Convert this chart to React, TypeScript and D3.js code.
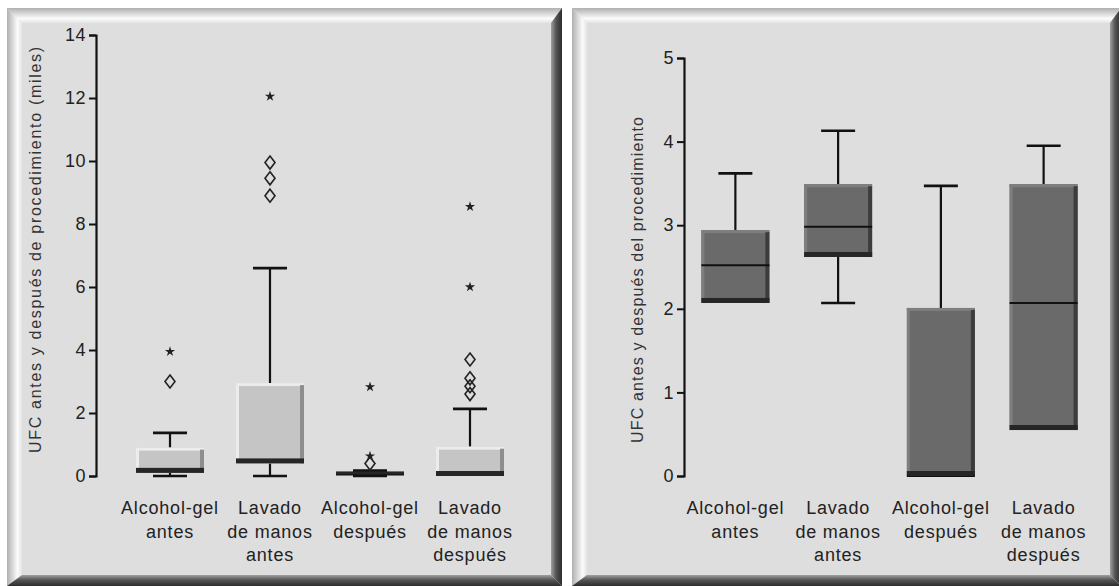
import React, { useEffect, useRef } from 'react';
import * as d3 from 'd3';

// categories shared by both panels
const categories = ['Alcohol-gel antes', 'Lavado de manos antes', 'Alcohol-gel después', 'Lavado de manos después'];
const categoryLines = [
    ['Alcohol-gel', 'antes'],
    ['Lavado', 'de manos', 'antes'],
    ['Alcohol-gel', 'después'],
    ['Lavado', 'de manos', 'después']
];

// left panel: UFC (miles)
const leftTicks = [0, 2, 4, 6, 8, 10, 12, 14];
const leftWhiskerLow = [0, 0, 0, 0];
const leftQ1 = [0.1, 0.4, 0.05, 0];
const leftMedian = [0.15, 0.45, 0.05, 0.05];
const leftQ3 = [0.9, 2.95, 0.1, 0.93];
const leftWhiskerHigh = [1.37, 6.6, 0.17, 2.13];
const leftOutliers = [[3.0], [8.9, 9.45, 9.95], [0.4], [2.6, 2.85, 3.1, 3.7]];
const leftExtremes = [[3.95], [12.05], [0.63, 2.83], [6.0, 8.55]];

// right panel
const rightTicks = [0, 1, 2, 3, 4, 5];
const rightWhiskerLow = [2.07, 2.07, 0, 0.55];
const rightQ1 = [2.07, 2.62, 0, 0.55];
const rightMedian = [2.52, 2.98, 0, 2.07];
const rightQ3 = [2.94, 3.49, 2.01, 3.49];
const rightWhiskerHigh = [3.62, 4.13, 3.47, 3.95];

const W = 1119;
const H = 586;
const FONT = '"Liberation Sans", Arial, sans-serif';

interface PanelSpec {
    frame: [number, number, number, number];
    axisX: number;
    bandRange: [number, number];
    yDomain: [number, number];
    yRange: [number, number];
    ticks: number[];
    title: string;
    titleX: number;
    titleY: number;
    titleLen: number;
    low: number[];
    q1: number[];
    med: number[];
    q3: number[];
    high: number[];
    outliers?: number[][];
    extremes?: number[][];
    light: boolean;
}

const panels: PanelSpec[] = [
    {
        frame: [7, 8, 562, 586],
        axisX: 96,
        bandRange: [120, 520],
        yDomain: [0, 14],
        yRange: [476, 35],
        ticks: leftTicks,
        title: 'UFC antes y después de procedimiento (miles)',
        titleX: 35,
        titleY: 250,
        titleLen: 406,
        low: leftWhiskerLow,
        q1: leftQ1,
        med: leftMedian,
        q3: leftQ3,
        high: leftWhiskerHigh,
        outliers: leftOutliers,
        extremes: leftExtremes,
        light: true
    },
    {
        frame: [572, 8, 1121, 586],
        axisX: 684,
        bandRange: [684, 1095],
        yDomain: [0, 5],
        yRange: [476, 58],
        ticks: rightTicks,
        title: 'UFC antes y después del procedimiento',
        titleX: 637,
        titleY: 280,
        titleLen: 326,
        low: rightWhiskerLow,
        q1: rightQ1,
        med: rightMedian,
        q3: rightQ3,
        high: rightWhiskerHigh,
        light: false
    }
];

const App: React.FC = () => {
    const svgRef = useRef<SVGSVGElement>(null);

    useEffect(() => {
        if (!svgRef.current) return;
        const svg = d3.select(svgRef.current);
        svg.selectAll('*').remove();

        // bevel gradients
        const defs = svg.append('defs');
        const grad = (id: string, vertical: boolean, stops: [string, string][]) => {
            const lg = defs.append('linearGradient').attr('id', id)
                .attr('x1', 0).attr('y1', 0)
                .attr('x2', vertical ? 0 : 1).attr('y2', vertical ? 1 : 0);
            stops.forEach(([o, c]) => lg.append('stop').attr('offset', o).attr('stop-color', c));
        };
        grad('bevTop', true, [['0%', '#b0b0b0'], ['70%', '#fbfbfb'], ['100%', '#e4e4e4']]);
        grad('bevLeft', false, [['0%', '#b0b0b0'], ['70%', '#fbfbfb'], ['100%', '#e4e4e4']]);
        grad('bevRight', false, [['0%', '#a0a0a0'], ['45%', '#555'], ['100%', '#2c2c2c']]);
        grad('bevBottom', true, [['0%', '#a0a0a0'], ['45%', '#555'], ['100%', '#2c2c2c']]);

        svg.append('rect').attr('width', W).attr('height', H).attr('fill', '#ffffff');

        panels.forEach(p => {
            const g = svg.append('g');
            const [x0, y0, x1, y1] = p.frame;
            const tl = 15;
            const br = 11;

            // frame
            g.append('rect').attr('x', x0).attr('y', y0).attr('width', x1 - x0).attr('height', y1 - y0).attr('fill', '#dedede');
            g.append('polygon').attr('points', `${x0},${y0} ${x1},${y0} ${x1 - br},${y0 + tl} ${x0 + tl},${y0 + tl}`).attr('fill', 'url(#bevTop)');
            g.append('polygon').attr('points', `${x0},${y0} ${x0 + tl},${y0 + tl} ${x0 + tl},${y1 - br} ${x0},${y1}`).attr('fill', 'url(#bevLeft)');
            g.append('polygon').attr('points', `${x1},${y0} ${x1},${y1} ${x1 - br},${y1 - br} ${x1 - br},${y0 + tl}`).attr('fill', 'url(#bevRight)');
            g.append('polygon').attr('points', `${x0},${y1} ${x1},${y1} ${x1 - br},${y1 - br} ${x0 + tl},${y1 - br}`).attr('fill', 'url(#bevBottom)');

            const x = d3.scaleBand<string>().domain(categories).range(p.bandRange);
            const y = d3.scaleLinear().domain(p.yDomain).range(p.yRange);

            // axis
            const axis = g.append('g')
                .attr('transform', `translate(${p.axisX},0)`)
                .call(d3.axisLeft(y).tickValues(p.ticks).tickSizeOuter(0).tickSize(7).tickPadding(3).tickFormat(d3.format('d')));
            axis.select('.domain').attr('stroke', '#111').attr('stroke-width', 2.2);
            axis.selectAll('.tick line').attr('stroke', '#111').attr('stroke-width', 2);
            axis.selectAll('.tick text')
                .attr('fill', '#222')
                .attr('font-family', FONT)
                .attr('font-size', 18)
                .attr('letter-spacing', 0.5);

            // y title
            g.append('text')
                .attr('transform', `translate(${p.titleX},${p.titleY}) rotate(-90)`)
                .attr('text-anchor', 'middle')
                .attr('dominant-baseline', 'central')
                .attr('font-family', FONT)
                .attr('font-size', 16)
                .attr('fill', '#333')
                .attr('textLength', p.titleLen)
                .attr('lengthAdjust', 'spacing')
                .text(p.title);

            // category labels
            categories.forEach((c, i) => {
                const cx = (x(c) ?? 0) + x.bandwidth() / 2;
                const t = g.append('text')
                    .attr('text-anchor', 'middle')
                    .attr('font-family', FONT)
                    .attr('font-size', 18)
                    .attr('letter-spacing', 0.8)
                    .attr('fill', '#222');
                categoryLines[i].forEach((line, k) => {
                    t.append('tspan').attr('x', cx).attr('y', 514 + k * 23.5).text(line);
                });
            });

            const boxW = 68;
            const capW = 34;
            const boxFill = p.light ? '#c5c5c5' : '#6a6a6a';
            const hiFill = p.light ? '#ececec' : '#7e7e7e';
            const sideFill = p.light ? '#8e8e8e' : '#3c3c3c';

            categories.forEach((c, i) => {
                const cx = (x(c) ?? 0) + x.bandwidth() / 2;
                const top = y(p.q3[i]);
                const bot = y(p.q1[i]);

                // whiskers
                const stem = (from: number, to: number) => {
                    if (from === to) return;
                    g.append('line').attr('x1', cx).attr('x2', cx).attr('y1', y(from)).attr('y2', y(to))
                        .attr('stroke', '#111').attr('stroke-width', 2.2);
                    g.append('line').attr('x1', cx - capW / 2).attr('x2', cx + capW / 2).attr('y1', y(to)).attr('y2', y(to))
                        .attr('stroke', '#111').attr('stroke-width', 2.6);
                };
                stem(p.q3[i], p.high[i]);
                stem(p.q1[i], p.low[i]);

                // box with bevel
                const bx = cx - boxW / 2;
                const h = Math.max(bot - top, 0);
                g.append('rect').attr('x', bx).attr('y', top).attr('width', boxW).attr('height', h).attr('fill', boxFill);
                if (h > 8) {
                    g.append('rect').attr('x', bx).attr('y', top).attr('width', boxW).attr('height', 3).attr('fill', hiFill);
                    g.append('rect').attr('x', bx).attr('y', top).attr('width', 3).attr('height', h).attr('fill', hiFill);
                    g.append('rect').attr('x', bx + boxW - 4).attr('y', top + 2).attr('width', 4).attr('height', h - 2).attr('fill', sideFill);
                }
                // median
                g.append('line').attr('x1', bx).attr('x2', bx + boxW).attr('y1', y(p.med[i])).attr('y2', y(p.med[i]))
                    .attr('stroke', '#111').attr('stroke-width', 2);
                const bandTop = Math.min(bot - 3, Math.max(top, bot - 5));
                g.append('rect').attr('x', bx).attr('y', bandTop).attr('width', boxW).attr('height', bot - bandTop).attr('fill', '#262626');

                // outliers and extremes
                (p.outliers?.[i] ?? []).forEach(v => {
                    g.append('path')
                        .attr('transform', `translate(${cx},${y(v)})`)
                        .attr('d', 'M0,-6.5 L5,0 L0,6.5 L-5,0 Z')
                        .attr('fill', 'none')
                        .attr('stroke', '#222')
                        .attr('stroke-width', 1.6);
                });
                (p.extremes?.[i] ?? []).forEach(v => {
                    g.append('path')
                        .attr('transform', `translate(${cx},${y(v)})`)
                        .attr('d', d3.symbol().type(d3.symbolStar).size(32)() ?? '')
                        .attr('fill', '#222');
                });
            });
        });
    }, []);

    return (
        <svg ref={svgRef} width={W} height={H} style={{ position: 'absolute', left: 0, top: 0 }} />
    );
};

export default App;
